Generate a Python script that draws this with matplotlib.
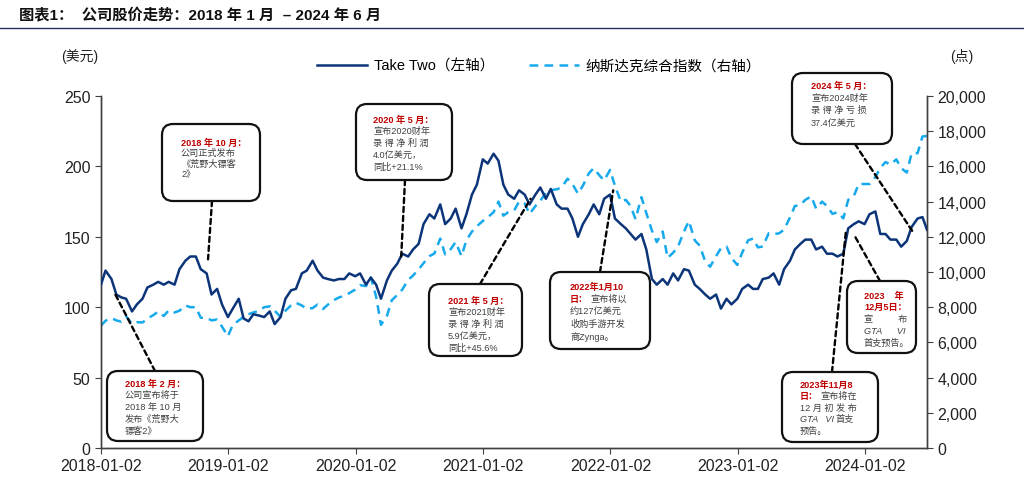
import matplotlib
matplotlib.use('Agg')
import matplotlib.pyplot as plt
import matplotlib.transforms as mtransforms
from matplotlib.patches import FancyBboxPatch
from matplotlib.lines import Line2D
import pandas as pd

# ---------------- data (semi-monthly readings) ----------------
dates = list(pd.date_range('2018-01-01', '2024-06-15', freq='SMS'))
dates[0] = pd.Timestamp('2018-01-02')
dates.append(pd.Timestamp('2024-06-28'))

ttwo_2018 = [116, 126, 120, 109, 107, 106, 97, 102, 106, 114, 116, 118, 116, 118, 116, 127, 133, 136, 136, 127, 124, 109, 113, 102]
ttwo_2019 = [93, 99, 106, 92, 90, 95, 94, 93, 97, 88, 93, 106, 112, 113, 124, 126, 133, 126, 121, 120, 119, 120, 120, 124]
ttwo_2020 = [122, 124, 116, 121, 116, 106, 119, 126, 131, 138, 136, 141, 145, 159, 166, 163, 173, 159, 163, 170, 156, 166, 180, 187]
ttwo_2021 = [205, 202, 209, 204, 187, 180, 177, 183, 180, 173, 180, 185, 177, 184, 173, 170, 170, 163, 150, 159, 166, 173, 166, 177]
ttwo_2022 = [180, 163, 159, 156, 152, 148, 152, 141, 120, 116, 120, 116, 124, 119, 127, 126, 116, 113, 109, 106, 109, 99, 106, 102]
ttwo_2023 = [106, 113, 116, 113, 113, 120, 121, 124, 116, 127, 133, 141, 145, 148, 148, 141, 143, 138, 138, 136, 138, 156, 159, 161]
ttwo_2024 = [159, 166, 168, 152, 152, 148, 148, 143, 147, 157, 163, 164, 155]
ttwo = ttwo_2018 + ttwo_2019 + ttwo_2020 + ttwo_2021 + ttwo_2022 + ttwo_2023 + ttwo_2024

ndx_2018 = [6950, 7230, 7380, 7250, 7180, 7480, 7060, 7150, 7130, 7350, 7550, 7750, 7500, 7820, 7700, 7800, 8100, 8000, 8000, 7400, 7400, 7250, 7300, 6900]
ndx_2019 = [6350, 7000, 7250, 7450, 7600, 7700, 7800, 8000, 8050, 7800, 7450, 7800, 8100, 8250, 8100, 7900, 7950, 8150, 7900, 8150, 8400, 8550, 8650, 8800]
ndx_2020 = [9000, 9250, 9200, 9700, 8600, 7000, 7500, 8400, 8700, 9000, 9550, 9800, 10150, 10500, 10900, 11050, 11900, 11000, 11300, 11700, 10900, 11800, 12300, 12600]
ndx_2021 = [12900, 13100, 13400, 14000, 13200, 13400, 13500, 14000, 13900, 13300, 13750, 14050, 14500, 14650, 14700, 14800, 15300, 15000, 14450, 14900, 15600, 15900, 15500, 15200]
ndx_2022 = [15800, 14900, 14000, 14100, 13750, 13000, 14250, 13350, 12350, 11700, 12300, 10800, 11100, 11450, 12300, 12900, 11800, 11500, 10600, 10300, 10900, 11350, 11450, 10800]
ndx_2023 = [10400, 11100, 11800, 11900, 11400, 11450, 12200, 12150, 12200, 12400, 13100, 13750, 13800, 14100, 14300, 13600, 14000, 13750, 13300, 13400, 13050, 14100, 14300, 15000]
ndx_2024 = [15000, 15000, 15400, 15900, 16250, 16100, 16400, 15900, 15650, 16750, 16750, 17700, 17730]
nasdaq = ndx_2018 + ndx_2019 + ndx_2020 + ndx_2021 + ndx_2022 + ndx_2023 + ndx_2024

x_ticks = ['2018-01-02', '2019-01-02', '2020-01-02', '2021-01-02', '2022-01-02', '2023-01-02', '2024-01-02']
left_ticks = [0, 50, 100, 150, 200, 250]
right_ticks = [0, 2000, 4000, 6000, 8000, 10000, 12000, 14000, 16000, 18000, 20000]

title = '图表1：  公司股价走势：2018 年 1 月  – 2024 年 6 月'
series_names = ['Take Two（左轴）', '纳斯达克综合指数（右轴）']

# annotations: (target date, target TTWO value, connector start px, box rect px, line step, text origin, lines)
RED = '#C00000'
GRAY = '#404040'
notes = [
    ('2018-11-05', 134, (212, 202), (162, 125, 98, 77), 10.5, (181, 143),
     [[('2018 年 10 月：', RED, 'bold', 0)], [('公司正式发布', GRAY, 'normal', 0)],
      [('《荒野大镖客', GRAY, 'normal', 0)], [('2》', GRAY, 'normal', 0)]]),
    ('2020-05-12', 136, (405, 181), (356, 105, 96, 76), 11.8, (373, 120),
     [[('2020 年 5 月：', RED, 'bold', 0)], [('宣布2020财年', GRAY, 'normal', 0)],
      [('录 得 净 利 润', GRAY, 'normal', 0)], [('4.0亿美元，', GRAY, 'normal', 0)],
      [('同比+21.1%', GRAY, 'normal', 0)]]),
    ('2018-02-08', 111, (155, 372), (107, 372, 96, 70), 11.8, (125, 384),
     [[('2018 年 2 月：', RED, 'bold', 0)], [('公司宣布将于', GRAY, 'normal', 0)],
      [('2018 年 10 月', GRAY, 'normal', 0)], [('发布《荒野大', GRAY, 'normal', 0)],
      [('镖客2》', GRAY, 'normal', 0)]]),
    ('2021-05-18', 177, (480, 285), (429, 285, 93, 72), 11.8, (448, 301),
     [[('2021 年 5 月：', RED, 'bold', 0)], [('宣布2021财年', GRAY, 'normal', 0)],
      [('录 得 净 利 润', GRAY, 'normal', 0)], [('5.9亿美元，', GRAY, 'normal', 0)],
      [('同比+45.6%', GRAY, 'normal', 0)]]),
    ('2022-01-10', 183, (600, 273), (550, 273, 100, 77), 12.4, (570, 287),
     [[('2022年1月10', RED, 'bold', 0)], [('日：', RED, 'bold', 0), ('宣布将以', GRAY, 'normal', 20)],
      [('约127亿美元', GRAY, 'normal', 0)], [('收购手游开发', GRAY, 'normal', 0)],
      [('商Zynga。', GRAY, 'normal', 0)]]),
    ('2024-05-17', 154, (855, 145), (792, 74, 100, 71), 12.3, (811, 86),
     [[('2024 年 5 月：', RED, 'bold', 0)], [('宣布2024财年', GRAY, 'normal', 0)],
      [('录 得 净 亏 损', GRAY, 'normal', 0)], [('37.4亿美元', GRAY, 'normal', 0)]]),
    ('2023-11-08', 153, (832, 373), (782, 373, 96, 70), 11.6, (800, 385),
     [[('2023年11月8', RED, 'bold', 0)], [('日：', RED, 'bold', 0), ('宣布将在', GRAY, 'normal', 20)],
      [('12 月 初 发 布', GRAY, 'normal', 0)], [('GTA   VI', GRAY, 'italic', 0), ('首支', GRAY, 'normal', 36)],
      [('预告。', GRAY, 'normal', 0)]]),
    ('2023-12-05', 150, (880, 282), (847, 282, 69, 72), 11.8, (864, 296),
     [[('2023    年', RED, 'bold', 0)], [('12月5日：', RED, 'bold', 0)],
      [('宣          布', GRAY, 'normal', 0)], [('GTA      VI', GRAY, 'italic', 0)],
      [('首支预告。', GRAY, 'normal', 0)]]),
]

# ---------------- figure ----------------
W, H = 1024, 485
CJK = 'Noto Sans CJK SC'
plt.rcParams['font.family'] = ['Liberation Sans', CJK, 'DejaVu Sans']
fig = plt.figure(figsize=(W / 100, H / 100), dpi=100)

def fx(px):
    return px / W

def fy(py):
    return 1 - py / H

ax = fig.add_axes([fx(101), fy(449), fx(927) - fx(101), fy(97) - fy(449)])
ax2 = ax.twinx()

NAVY = '#0C3478'
CYAN = '#16A9EC'
ln1, = ax.plot(dates, ttwo, color=NAVY, lw=1.8, zorder=3)
ln2, = ax2.plot(dates, nasdaq, color=CYAN, lw=1.8, dashes=(3.5, 2.5), zorder=2)
ax.set_zorder(ax2.get_zorder() + 1)
ax.patch.set_visible(False)

ax.set_xlim(pd.Timestamp('2018-01-02'), pd.Timestamp('2024-06-28'))
ax.set_ylim(0, 250)
ax2.set_ylim(0, 20000)
ax.set_yticks(left_ticks)
ax2.set_yticks(right_ticks)
ax2.set_yticklabels([f'{v:,}' for v in right_ticks])
ax.set_xticks([pd.Timestamp(d) for d in x_ticks])
ax.set_xticklabels(x_ticks, family=['Liberation Sans Narrow', 'Liberation Sans'], fontsize=11.5)
for a in (ax, ax2):
    a.spines['top'].set_visible(False)
    for s in a.spines.values():
        s.set_color('#404040')
        s.set_linewidth(1.0)
ax.tick_params(axis='y', labelsize=11.5, length=4, color='#404040', labelcolor='#222222')
ax2.tick_params(axis='y', labelsize=11.5, length=4, color='#404040', labelcolor='#222222')
ax.tick_params(axis='x', length=4, color='#404040', labelcolor='#222222', pad=3)

# title and unit labels
fig.text(fx(19), fy(15), title, fontsize=11, fontweight='bold', va='center', ha='left', color='#111111')
fig.add_artist(Line2D([0, 1], [fy(29), fy(29)], color='#1F2F5F', lw=1.0))
fig.text(fx(80), fy(57), '(美元)', fontsize=10, va='center', ha='center', color='#222222')
fig.text(fx(962), fy(57), '(点)', fontsize=10, va='center', ha='center', color='#222222')

fig.legend([ln1, Line2D([], [], color=CYAN, lw=1.8, dashes=(3.5, 2.5))], series_names,
           loc='center', bbox_to_anchor=(fx(539), fy(67)), ncol=2, frameon=False,
           fontsize=10.5, handlelength=3.4, columnspacing=2.4, handletextpad=0.45)

# annotations
ident = mtransforms.IdentityTransform()
for tdate, tval, start, rect, lh, tpos, lines in notes:
    ax.annotate('', xy=(pd.Timestamp(tdate), tval), xycoords='data',
                xytext=(fx(start[0]), fy(start[1])), textcoords='figure fraction',
                arrowprops=dict(arrowstyle='-', linestyle=(0, (2.2, 1.6)), color='black',
                                lw=1.7, shrinkA=0, shrinkB=0), zorder=5)
    x0, y0, w, h = rect
    patch = FancyBboxPatch((x0, H - (y0 + h)), w, h,
                           boxstyle='round,pad=0,rounding_size=11',
                           transform=ident, facecolor='white', edgecolor='#111111',
                           lw=1.6, zorder=6)
    fig.add_artist(patch)
    for i, segs in enumerate(lines):
        for text, col, weight, dx in segs:
            style = 'italic' if weight == 'italic' else 'normal'
            fw = 'bold' if weight == 'bold' else 'normal'
            fig.text(fx(tpos[0] + dx), fy(tpos[1] + i * lh), text, fontsize=6.6,
                     color=col, fontweight=fw, fontstyle=style, va='center', ha='left',
                     zorder=7, family=['Liberation Sans', CJK])

fig.savefig('out.png', dpi=100)
